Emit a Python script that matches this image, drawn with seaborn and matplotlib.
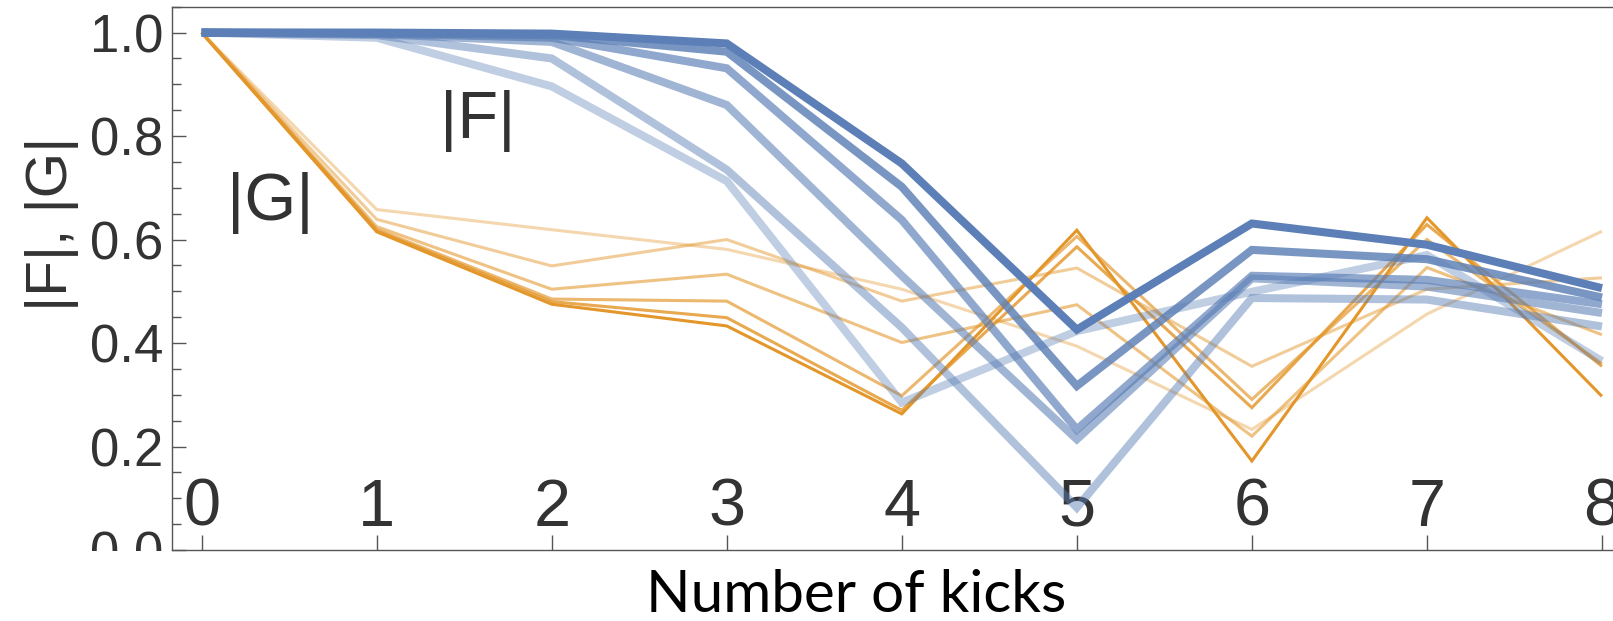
# |F| and |G| versus number of kicks
import pandas as pd
import matplotlib
matplotlib.use("Agg")
import matplotlib.pyplot as plt
import seaborn as sns
from matplotlib.patches import Rectangle
from matplotlib.ticker import MultipleLocator, FormatStrFormatter

# Data
kicks = [0, 1, 2, 3, 4, 5, 6, 7, 8]

# |F| curves, lightest to darkest
f_abs = [
    [1.0, 0.990, 0.896, 0.713, 0.285, 0.423, 0.499, 0.570, 0.365],
    [1.0, 0.995, 0.950, 0.735, 0.430, 0.082, 0.487, 0.484, 0.432],
    [1.0, 0.997, 0.982, 0.860, 0.530, 0.214, 0.525, 0.509, 0.458],
    [1.0, 0.998, 0.990, 0.931, 0.638, 0.233, 0.530, 0.522, 0.475],
    [1.0, 0.999, 0.995, 0.963, 0.702, 0.317, 0.580, 0.562, 0.488],
    [1.0, 1.000, 0.998, 0.979, 0.747, 0.426, 0.631, 0.590, 0.506],
]

# |G| curves, lightest to darkest
g_abs = [
    [1.0, 0.658, 0.619, 0.581, 0.504, 0.394, 0.233, 0.456, 0.616],
    [1.0, 0.639, 0.549, 0.600, 0.481, 0.545, 0.355, 0.504, 0.526],
    [1.0, 0.625, 0.504, 0.533, 0.401, 0.474, 0.220, 0.546, 0.416],
    [1.0, 0.620, 0.485, 0.481, 0.298, 0.606, 0.291, 0.600, 0.360],
    [1.0, 0.617, 0.480, 0.449, 0.270, 0.586, 0.275, 0.629, 0.355],
    [1.0, 0.615, 0.475, 0.433, 0.263, 0.618, 0.172, 0.642, 0.297],
]

shades = [0.38, 0.48, 0.58, 0.68, 0.82, 1.0]
blue = "#5b7fb6"
orange = "#e3962a"
ink = "#333333"

sns.set_theme(style="white")
plt.rcParams["font.family"] = ["Liberation Sans", "DejaVu Sans"]

W, H = 1613, 621
fig = plt.figure(figsize=(W / 100, H / 100), dpi=100)
ax = fig.add_axes([171.7 / W, 71 / H, (W - 171.7) / W, (614.3 - 71) / H])

# |G| lines (thin, orange)
for vals, a in zip(g_abs, shades):
    df = pd.DataFrame({"kicks": kicks, "value": vals})
    sns.lineplot(data=df, x="kicks", y="value", ax=ax, color=orange, alpha=a,
                 linewidth=2.2, solid_joinstyle="miter", solid_capstyle="butt")

# |F| lines (thick, blue)
for vals, a in zip(f_abs, shades):
    df = pd.DataFrame({"kicks": kicks, "value": vals})
    sns.lineplot(data=df, x="kicks", y="value", ax=ax, color=blue, alpha=a,
                 linewidth=5.8, solid_joinstyle="miter", solid_capstyle="butt")

ax.set_xlim(-0.171, 8.063)
ax.set_ylim(0, 1.05)

# axes styling
for side in ["left", "bottom", "top"]:
    ax.spines[side].set_color("#555555")
    ax.spines[side].set_linewidth(1.0)
ax.spines["right"].set_visible(False)

ax.set_xticks(kicks)
ax.set_xticklabels([str(k) for k in kicks])
ax.yaxis.set_major_locator(MultipleLocator(0.2))
ax.yaxis.set_minor_locator(MultipleLocator(0.05))
ax.yaxis.set_major_formatter(FormatStrFormatter("%.1f"))

ax.tick_params(axis="x", direction="in", length=11, width=1, color="#555555",
               labelsize=48, labelcolor=ink, pad=-52, bottom=True, top=False)
ax.tick_params(axis="y", which="major", direction="in", length=10, width=1,
               color="#555555", labelsize=38, labelcolor=ink, pad=6, left=True)
ax.tick_params(axis="y", which="minor", direction="in", length=6.5, width=1,
               color="#555555", left=True)

ax.set_ylabel("|F|, |G|", fontsize=42, color=ink)
ax.yaxis.set_label_coords(-0.064, 0.60)
ax.set_xlabel("Number of kicks", fontsize=42, color="black", family="Lato")
ax.xaxis.set_label_coords(0.475, -0.035)

# curve labels
ax.text(1.58, 0.83, "|F|", fontsize=48, color=ink, ha="center", va="center")
ax.text(0.393, 0.67, "|G|", fontsize=48, color=ink, ha="center", va="center")

# the bottom of the "0.0" label is cut off in the original
fig.add_artist(Rectangle((0, 0), 171.7 / W, 70 / H, transform=fig.transFigure,
                         facecolor="white", edgecolor="none", zorder=5))

fig.savefig("out.png", dpi=100)
